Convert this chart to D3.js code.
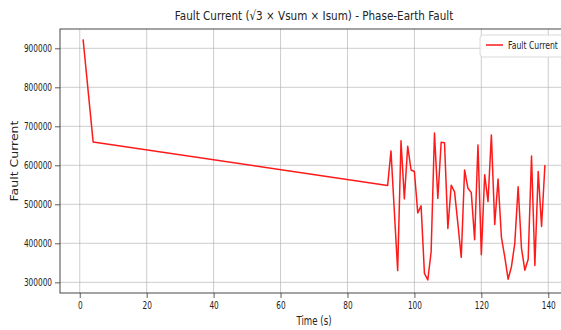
<!DOCTYPE html>
<html>
<head>
<meta charset="utf-8">
<script src="https://cdn.jsdelivr.net/npm/d3@7"></script>
<style>
  body { margin: 0; background: #fff; }
  svg { display: block; overflow: hidden; }
  text { font-family: "DejaVu Sans", sans-serif; fill: #222; }
</style>
</head>
<body>
<div id="chart"></div>
<script>
// data
var times = [1, 4, 92, 93, 94, 95, 96, 97, 98, 99, 100, 101, 102, 103, 104, 105, 106, 107, 108, 109,
    110, 111, 112, 113, 114, 115, 116, 117, 118, 119, 120, 121, 122, 123, 124, 125, 126, 127, 128, 129,
    130, 131, 132, 133, 134, 135, 136, 137, 138, 139];
var faultCurrent = [923000, 660000, 548000, 637000, 483000, 330000, 663000, 514000, 649000, 588000,
    584000, 478000, 496000, 323000, 306000, 378000, 683000, 515000, 659000, 658000,
    438000, 549000, 532000, 450000, 364000, 588000, 541000, 530000, 409000, 652000,
    371000, 576000, 507000, 678000, 448000, 565000, 416000, 365000, 308000, 340000,
    400000, 545000, 387000, 331000, 359000, 624000, 343000, 584000, 443000, 601000];
var xTicks = [0, 20, 40, 60, 80, 100, 120, 140];
var yTicks = [300000, 400000, 500000, 600000, 700000, 800000, 900000];
var titleText = "Fault Current (\u221a3 \u00d7 Vsum \u00d7 Isum) - Phase-Earth Fault";
var xLabel = "Time (s)";
var yLabel = "Fault Current";
var legendLabel = "Fault Current";

var svgWidth = 561;
var svgHeight = 330;
var plot = { left: 60, right: 568, top: 29, bottom: 293 };

var svg = d3.select("#chart").append("svg").attr("width", svgWidth).attr("height", svgHeight);

var xScale = d3.scaleLinear().domain([-5.9, 145.9]).range([plot.left, plot.right]);
var yScale = d3.scaleLinear().domain([272600, 949500]).range([plot.bottom, plot.top]);

// squeeze text horizontally, the reference looks narrow
function squish(sel, k) {
    sel.each(function() {
        var len = this.getComputedTextLength();
        d3.select(this).attr("textLength", len * k).attr("lengthAdjust", "spacingAndGlyphs");
    });
}

// grid
svg.append("g").selectAll("line").data(xTicks).enter().append("line")
    .attr("x1", d => xScale(d)).attr("x2", d => xScale(d))
    .attr("y1", plot.top).attr("y2", plot.bottom)
    .attr("stroke", "#b0b0b0").attr("stroke-opacity", 0.7).attr("stroke-width", 0.9);
svg.append("g").selectAll("line").data(yTicks).enter().append("line")
    .attr("x1", plot.left).attr("x2", plot.right)
    .attr("y1", d => yScale(d)).attr("y2", d => yScale(d))
    .attr("stroke", "#b0b0b0").attr("stroke-opacity", 0.7).attr("stroke-width", 0.9);

// axes
var xAxis = svg.append("g")
    .attr("transform", `translate(0,${plot.bottom})`)
    .call(d3.axisBottom(xScale).tickValues(xTicks).tickSize(5).tickPadding(4).tickSizeOuter(0));
var yAxis = svg.append("g")
    .attr("transform", `translate(${plot.left},0)`)
    .call(d3.axisLeft(yScale).tickValues(yTicks).tickFormat(d3.format("d")).tickSize(5).tickPadding(3).tickSizeOuter(0));

[xAxis, yAxis].forEach(function(ax) {
    ax.select(".domain").remove();
    ax.selectAll(".tick line").attr("stroke", "#333").attr("stroke-width", 0.8);
    ax.selectAll(".tick text").attr("font-size", 10.5).attr("fill", "#333").call(squish, 0.7);
});

// frame
svg.append("rect")
    .attr("x", plot.left).attr("y", plot.top)
    .attr("width", plot.right - plot.left).attr("height", plot.bottom - plot.top)
    .attr("fill", "none").attr("stroke", "#333").attr("stroke-width", 0.9);

// the line
var line = d3.line().x((d, i) => xScale(times[i])).y(d => yScale(d));
svg.append("path")
    .datum(faultCurrent)
    .attr("d", line)
    .attr("fill", "none")
    .attr("stroke", "#ff1a1a")
    .attr("stroke-width", 1.5)
    .attr("stroke-linejoin", "round");

// title and labels
svg.append("text")
    .attr("x", (plot.left + plot.right) / 2).attr("y", 20)
    .attr("text-anchor", "middle").attr("font-size", 13)
    .text(titleText).call(squish, 0.8);

svg.append("text")
    .attr("x", (plot.left + plot.right) / 2).attr("y", 325)
    .attr("text-anchor", "middle").attr("font-size", 11.5)
    .text(xLabel).call(squish, 0.75);

svg.append("text")
    .attr("transform", `translate(18,${(plot.top + plot.bottom) / 2}) scale(0.82,1) rotate(-90)`)
    .attr("text-anchor", "middle").attr("font-size", 12.5)
    .text(yLabel);

// legend
var legend = svg.append("g").attr("transform", "translate(480,35)");
legend.append("rect")
    .attr("width", 100).attr("height", 22).attr("rx", 3)
    .attr("fill", "#fff").attr("fill-opacity", 0.85)
    .attr("stroke", "#d6d6d6").attr("stroke-width", 0.9);
legend.append("line")
    .attr("x1", 6).attr("x2", 23).attr("y1", 10).attr("y2", 10)
    .attr("stroke", "#ff1a1a").attr("stroke-width", 1.5);
legend.append("text")
    .attr("x", 28).attr("y", 14).attr("font-size", 11)
    .text(legendLabel).call(squish, 0.7);
</script>
</body>
</html>
